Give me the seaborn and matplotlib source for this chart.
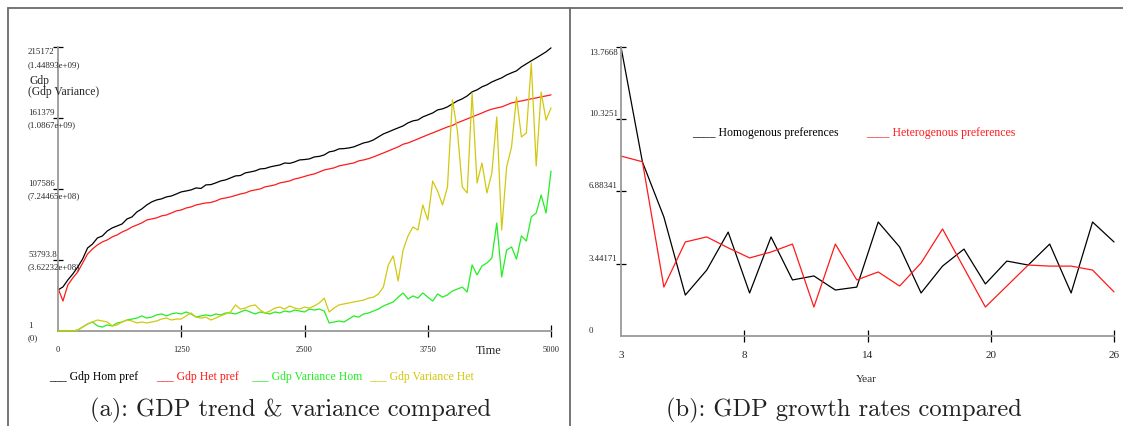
import matplotlib
matplotlib.use('Agg')
import matplotlib.pyplot as plt
import seaborn as sns
from matplotlib.lines import Line2D
from matplotlib.transforms import blended_transform_factory as btf

# ---------------- data: panel (a) ----------------
TIME = list(range(0, 5001, 50))

GDP_HOM = [
    31100, 33400, 38700, 43200, 48500, 54600, 62900, 65900, 70500, 72000,
    75800, 78100, 79600, 81100, 84900, 86400, 90200, 92500, 95500, 97800,
    99300, 100100, 101600, 102300, 103800, 105400, 106100, 106900, 108400, 108000,
    110700, 110900, 112200, 113700, 114500, 116000, 117500, 117800, 119800, 120500,
    121300, 122800, 123100, 124300, 125100, 125800, 127300, 127000, 128100, 129600,
    129900, 130400, 131900, 132300, 133400, 135700, 136400, 138000, 138200, 138700,
    139500, 141000, 142500, 143300, 144800, 147100, 149300, 150800, 152400, 153900,
    155400, 157700, 159200, 159900, 162200, 163700, 165200, 167500, 168300, 169800,
    172100, 174300, 175900, 178100, 181200, 182700, 185000, 186500, 188700, 190300,
    191800, 194000, 195600, 197100, 200100, 202400, 204700, 206900, 209200, 211500, 214500]

GDP_HET = [
    32600, 22700, 34900, 40200, 44700, 51500, 58400, 62200, 65200, 67500,
    69000, 71300, 72800, 75000, 76600, 78800, 80300, 81900, 84100, 84900,
    85700, 87200, 87900, 89400, 91000, 91700, 93200, 94000, 95500, 96300,
    97000, 97400, 98500, 100100, 100800, 101600, 102700, 103800, 104600, 106100,
    106900, 107600, 109200, 109900, 110700, 112200, 112900, 113700, 115200, 116000,
    117100, 118200, 119000, 120500, 122000, 122800, 123600, 125100, 125800, 126600,
    127300, 128900, 129600, 130600, 131900, 133400, 134900, 136400, 138000, 139500,
    141500, 142500, 144000, 145500, 147100, 148600, 150100, 151600, 153100, 154600,
    155700, 157700, 159200, 160700, 162200, 163700, 165200, 166800, 168100, 169000,
    169800, 171300, 172800, 173600, 174300, 175100, 175900, 176600, 177400, 178100, 178900]

# variance series, in units of 1e8
VAR_HOM = [
    0, 0, 0, 0, 0.05, 0.20, 0.36, 0.46, 0.26, 0.20,
    0.31, 0.26, 0.41, 0.46, 0.56, 0.61, 0.66, 0.77, 0.66, 0.71,
    0.82, 0.87, 0.77, 0.87, 0.92, 0.87, 0.97, 0.87, 0.71, 0.77,
    0.82, 0.77, 0.87, 0.82, 0.92, 0.92, 0.87, 0.97, 1.07, 0.97,
    0.87, 0.97, 0.92, 0.87, 0.97, 0.92, 1.02, 0.97, 1.07, 1.02,
    0.97, 1.12, 1.07, 1.12, 1.02, 0.41, 0.46, 0.51, 0.46, 0.61,
    0.77, 0.71, 0.87, 0.92, 1.02, 1.12, 1.28, 1.38, 1.48, 1.73,
    1.94, 1.63, 1.79, 1.68, 1.94, 1.73, 1.53, 1.89, 1.73, 1.84,
    2.04, 2.14, 2.24, 1.99, 3.37, 2.86, 3.32, 3.47, 3.72, 5.51,
    2.76, 4.13, 4.29, 3.67, 4.85, 4.59, 5.82, 6.02, 6.94, 6.02, 8.16]

VAR_HET = [
    0, 0, 0, 0, 0.05, 0.20, 0.36, 0.46, 0.56, 0.51,
    0.46, 0.26, 0.31, 0.46, 0.56, 0.51, 0.41, 0.46, 0.41, 0.46,
    0.51, 0.61, 0.66, 0.56, 0.61, 0.61, 0.77, 0.92, 0.71, 0.66,
    0.71, 0.56, 0.66, 0.77, 0.87, 0.97, 1.33, 1.12, 1.17, 1.28,
    1.33, 1.07, 0.92, 1.02, 1.17, 1.22, 1.12, 1.28, 1.17, 1.12,
    1.22, 1.17, 1.28, 1.43, 1.68, 0.97, 1.17, 1.33, 1.38, 1.43,
    1.48, 1.53, 1.58, 1.68, 1.73, 1.89, 2.24, 3.37, 3.83, 2.55,
    4.13, 4.85, 5.31, 5.15, 6.43, 5.66, 7.65, 7.14, 6.43, 7.35,
    11.79, 10.25, 7.35, 7.04, 12.14, 7.55, 8.57, 7.04, 8.06, 10.92,
    5.15, 8.37, 9.39, 11.94, 9.90, 10.10, 13.67, 8.42, 12.19, 10.76, 11.38]

A_XTICKS = [0, 1250, 2500, 3750, 5000]
A_XTICKLABELS = ['0', '1250', '2500', '3750', '5000']
A_YTICKS = [1, 53793.8, 107586, 161379, 215172]
A_YLABELS = ['1', '53793.8', '107586', '161379', '215172']
A_YLABELS2 = ['(0)', '(3.62232e+08)', '(7.24465e+08)', '(1.0867e+09)', '(1.44893e+09)']
A_LEGEND = ['Gdp Hom pref', 'Gdp Het pref', 'Gdp Variance Hom', 'Gdp Variance Het']

# ---------------- data: panel (b) ----------------
YEARS = list(range(3, 27))
GROWTH_HOM = [13.7668, 8.29, 5.67, 1.95, 3.14, 4.95, 2.05, 4.72, 2.67, 2.86, 2.19, 2.33,
              5.43, 4.24, 2.05, 3.33, 4.14, 2.48, 3.57, 3.38, 4.38, 2.05, 5.43, 4.48]
GROWTH_HET = [8.57, 8.30, 2.33, 4.48, 4.72, 4.20, 3.72, 4.00, 4.38, 1.38, 4.38, 2.67,
              3.05, 2.38, 3.48, 5.10, 3.24, 1.38, 2.38, 3.38, 3.33, 3.33, 3.14, 2.10]
B_XTICKS = [3, 8.75, 14.5, 20.25, 26]
B_XTICKLABELS = ['3', '8', '14', '20', '26']
B_YTICKS = [0, 3.44171, 6.88341, 10.3251, 13.7668]
B_YLABELS = ['0', '3.44171', '6.88341', '10.3251', '13.7668']
B_LEGEND = ['Homogenous preferences', 'Heterogenous preferences']

CAPTION_A = '(a): GDP trend & variance compared'
CAPTION_B = '(b): GDP growth rates compared'

# ---------------- style ----------------
sns.set_style('white')
plt.rcParams['font.family'] = ['Liberation Serif', 'DejaVu Serif']

C_BLACK = '#000000'
C_RED = '#ff1a1a'
C_GREEN = '#22ee22'
C_YELLOW = '#d2c810'
AXIS_GRAY = '#9a9a9a'

W, H = 1123, 426
fig = plt.figure(figsize=(W / 100, H / 100), dpi=100)
fig.patch.set_facecolor('white')


def fx(px):
    return px / W


def fy(py):
    return 1 - py / H


# frame lines
for (x0, y0, x1, y1) in [(8, 8, 1123, 8), (8, 8, 8, 426), (570, 8, 570, 426)]:
    fig.add_artist(Line2D([fx(x0), fx(x1)], [fy(y0), fy(y1)], transform=fig.transFigure,
                          color='#6a6a6a', lw=1.3))


def style_axes(ax):
    sns.despine(ax=ax)
    for s in ['left', 'bottom']:
        ax.spines[s].set_color(AXIS_GRAY)
        ax.spines[s].set_linewidth(1.3)
    ax.set_facecolor('none')
    ax.set_xlabel('')
    ax.set_ylabel('')


# ---------------- panel (a) ----------------
rectA = [fx(58), fy(331), fx(551) - fx(58), (331 - 47) / H]
axA = fig.add_axes(rectA)
sns.lineplot(x=TIME, y=GDP_HOM, ax=axA, color=C_BLACK, lw=0.9, clip_on=False)
sns.lineplot(x=TIME, y=GDP_HET, ax=axA, color=C_RED, lw=0.9, clip_on=False)
axA.set_xlim(0, 5000)
axA.set_ylim(1, 215172)
style_axes(axA)

axV = fig.add_axes(rectA)
sns.lineplot(x=TIME, y=VAR_HOM, ax=axV, color=C_GREEN, lw=0.9, clip_on=False)
sns.lineplot(x=TIME, y=VAR_HET, ax=axV, color=C_YELLOW, lw=0.9, clip_on=False)
axV.set_xlim(0, 5000)
axV.set_ylim(0, 14.4893)
axV.axis('off')

axA.set_xticks(A_XTICKS)
axA.set_xticklabels(A_XTICKLABELS, fontsize=6)
axA.tick_params(axis='x', bottom=True, direction='inout', length=9, width=0.9, color='black', pad=6)
axA.xaxis.get_major_ticks()[0].tick1line.set_visible(False)
axA.set_yticks(A_YTICKS)
axA.set_yticklabels([])
axA.tick_params(axis='y', left=True, direction='inout', length=7, width=0.9, color='black')
axA.yaxis.get_major_ticks()[0].tick1line.set_visible(False)

trA = btf(fig.transFigure, axA.transData)
for i, (v, l1, l2) in enumerate(zip(A_YTICKS, A_YLABELS, A_YLABELS2)):
    if i == len(A_YTICKS) - 1:
        axA.annotate(l1, xy=(fx(28), v), xycoords=trA, xytext=(0, -1), textcoords='offset pixels',
                     ha='left', va='top', fontsize=6.3, annotation_clip=False)
        axA.annotate(l2, xy=(fx(28), v), xycoords=trA, xytext=(0, -14), textcoords='offset pixels',
                     ha='left', va='top', fontsize=6.3, annotation_clip=False)
    else:
        axA.annotate(l1, xy=(fx(28), v), xycoords=trA, xytext=(0, 1), textcoords='offset pixels',
                     ha='left', va='bottom', fontsize=6.3, annotation_clip=False)
        axA.annotate(l2, xy=(fx(28), v), xycoords=trA, xytext=(0, -3), textcoords='offset pixels',
                     ha='left', va='top', fontsize=6.3, annotation_clip=False)

fig.text(fx(40), fy(81), 'Gdp', ha='center', va='center', fontsize=8.4)
fig.text(fx(28), fy(92), '(Gdp Variance)', ha='left', va='center', fontsize=8.4)
fig.text(fx(489), fy(351), 'Time', ha='center', va='center', fontsize=8.8)

legA_x = [49, 156, 251, 369]
legA_c = [C_BLACK, C_RED, C_GREEN, C_YELLOW]
for x, lab, c in zip(legA_x, A_LEGEND, legA_c):
    fig.text(fx(x), fy(377), '___ ' + lab, ha='left', va='center', fontsize=8.5, color=c)

# ---------------- panel (b) ----------------
rectB = [fx(621), fy(336), fx(1114) - fx(621), (336 - 47) / H]
axB = fig.add_axes(rectB)
sns.lineplot(x=YEARS, y=GROWTH_HOM, ax=axB, color=C_BLACK, lw=0.9, clip_on=False)
sns.lineplot(x=YEARS, y=GROWTH_HET, ax=axB, color=C_RED, lw=0.9, clip_on=False)
axB.set_xlim(3, 26)
axB.set_ylim(0, 13.7668)
style_axes(axB)
axB.set_xticks(B_XTICKS)
axB.set_xticklabels(B_XTICKLABELS, fontsize=8)
axB.tick_params(axis='x', bottom=True, direction='inout', length=9, width=0.9, color='black', pad=6)
axB.xaxis.get_major_ticks()[0].tick1line.set_visible(False)
axB.set_yticks(B_YTICKS)
axB.set_yticklabels([])
axB.tick_params(axis='y', left=True, direction='inout', length=7, width=0.9, color='black')
axB.yaxis.get_major_ticks()[0].tick1line.set_visible(False)

trB = btf(fig.transFigure, axB.transData)
for i, (v, l1) in enumerate(zip(B_YTICKS, B_YLABELS)):
    if i == len(B_YTICKS) - 1:
        axB.annotate(l1, xy=(fx(589), v), xycoords=trB, xytext=(0, -2), textcoords='offset pixels',
                     ha='left', va='top', fontsize=6.3, annotation_clip=False)
    else:
        axB.annotate(l1, xy=(fx(589), v), xycoords=trB, xytext=(0, 1), textcoords='offset pixels',
                     ha='left', va='bottom', fontsize=6.3, annotation_clip=False)

fig.text(fx(866), fy(380), 'Year', ha='center', va='center', fontsize=8.2)
fig.text(fx(692), fy(133), '____ ' + B_LEGEND[0], ha='left', va='center', fontsize=8.5, color=C_BLACK)
fig.text(fx(866), fy(133), '____ ' + B_LEGEND[1], ha='left', va='center', fontsize=8.5, color=C_RED)

# ---------------- captions ----------------
fig.text(fx(290), fy(410), CAPTION_A, ha='center', va='center', fontsize=17.6,
         family=['cmr10', 'DejaVu Serif'], color='#222222')
fig.text(fx(844), fy(410), CAPTION_B, ha='center', va='center', fontsize=17.6,
         family=['cmr10', 'DejaVu Serif'], color='#222222')

fig.savefig('out.png', dpi=100, facecolor='white')
